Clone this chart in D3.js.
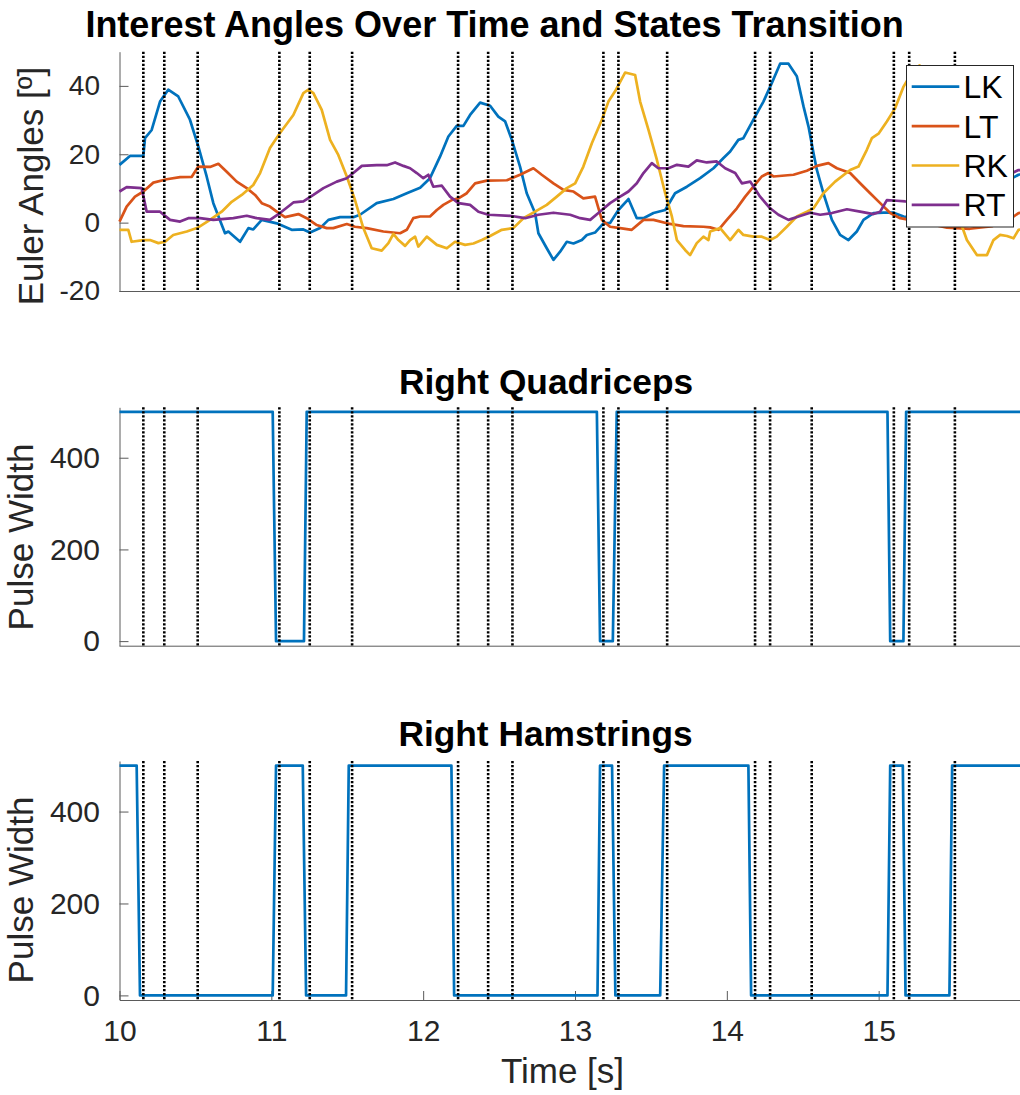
<!DOCTYPE html>
<html>
<head>
<meta charset="utf-8">
<script src="https://cdn.jsdelivr.net/npm/d3@7"></script>
<style>
body { margin: 0; background: #fff; }
svg { display: block; font-family: "Liberation Sans", Arial, sans-serif; }
</style>
</head>
<body>
<svg class="chart" width="1020" height="1095"></svg>
<script>
/*global d3*/
// joint angles, [time s, angle deg]
var lkData = [[10.000,16.9],[10.069,19.5],[10.157,19.5],[10.168,24.7],[10.212,27.1],[10.267,35.4],[10.321,38.9],[10.387,36.9],[10.464,30.1],[10.519,22.3],[10.574,13.5],[10.618,5.7],[10.695,-3.1],[10.717,-2.6],[10.794,-5.6],[10.849,-1.6],[10.881,-2.0],[10.937,0.8],[11.036,-0.2],[11.134,-2.1],[11.211,-2.0],[11.255,-2.9],[11.321,-1.6],[11.376,0.8],[11.453,1.6],[11.540,1.6],[11.584,2.3],[11.694,5.7],[11.804,6.9],[11.892,8.6],[11.980,10.2],[12.045,13.0],[12.111,19.3],[12.166,25.2],[12.221,28.3],[12.265,28.3],[12.309,31.5],[12.375,35.1],[12.441,34.2],[12.495,31.0],[12.540,29.6],[12.584,24.2],[12.638,16.4],[12.682,8.6],[12.737,2.8],[12.759,-3.1],[12.814,-7.5],[12.858,-10.9],[12.902,-8.5],[12.946,-5.6],[12.990,-6.1],[13.045,-5.1],[13.078,-3.6],[13.132,-2.9],[13.187,-0.2],[13.231,-0.1],[13.286,3.7],[13.352,6.9],[13.407,1.3],[13.451,1.3],[13.517,2.8],[13.594,3.7],[13.659,8.6],[13.737,10.5],[13.824,13.0],[13.912,15.9],[13.978,18.9],[14.022,20.8],[14.076,24.2],[14.109,24.7],[14.175,30.1],[14.241,35.4],[14.296,40.8],[14.351,46.5],[14.406,46.5],[14.461,42.8],[14.505,34.0],[14.538,28.1],[14.571,20.3],[14.593,15.4],[14.636,8.6],[14.692,0.8],[14.746,-3.6],[14.801,-5.1],[14.856,-2.6],[14.900,0.8],[14.966,2.8],[15.032,2.9],[15.098,2.9],[15.164,1.8],[15.300,1.0],[15.500,4.0],[15.700,9.0],[15.880,13.0],[15.921,14.0],[16.000,15.0]];
var ltData = [[10.000,0.3],[10.047,4.7],[10.102,7.6],[10.157,9.1],[10.223,11.7],[10.311,12.7],[10.399,13.3],[10.476,13.4],[10.519,16.4],[10.596,16.3],[10.651,17.2],[10.706,14.9],[10.772,12.0],[10.838,10.1],[10.893,8.1],[10.937,5.7],[10.991,4.7],[11.036,3.2],[11.090,1.6],[11.178,2.5],[11.233,1.3],[11.299,-0.7],[11.365,-1.6],[11.408,-1.6],[11.497,-0.4],[11.551,-1.2],[11.628,-1.6],[11.738,-2.6],[11.848,-3.1],[11.892,-2.1],[11.935,1.3],[11.980,1.8],[12.045,1.8],[12.090,3.7],[12.133,5.2],[12.188,6.6],[12.232,7.1],[12.287,8.6],[12.342,11.5],[12.419,12.3],[12.551,12.4],[12.638,14.0],[12.726,15.9],[12.781,14.0],[12.858,11.5],[12.924,9.6],[12.990,9.1],[13.055,7.1],[13.132,7.6],[13.177,0.8],[13.231,-1.2],[13.297,-1.6],[13.374,-2.1],[13.451,0.8],[13.517,0.8],[13.605,-0.2],[13.714,-1.0],[13.846,-1.2],[13.890,-1.4],[13.945,-2.1],[14.000,0.8],[14.066,4.2],[14.121,7.6],[14.175,10.5],[14.230,13.5],[14.274,14.5],[14.307,13.5],[14.439,14.0],[14.527,15.2],[14.593,16.6],[14.669,17.4],[14.725,15.9],[14.812,14.5],[14.878,11.5],[14.944,8.6],[15.010,5.7],[15.076,2.8],[15.142,1.3],[15.300,0.0],[15.450,-1.5],[15.600,-1.8],[15.750,-1.0],[15.880,1.5],[15.921,2.8],[16.000,3.2]];
var rkData = [[10.000,-2.1],[10.058,-2.1],[10.080,-5.6],[10.157,-5.1],[10.201,-5.1],[10.256,-6.0],[10.300,-5.6],[10.354,-3.6],[10.443,-2.6],[10.519,-1.4],[10.596,0.8],[10.673,3.2],[10.739,6.1],[10.805,8.1],[10.881,11.0],[10.926,14.5],[10.991,21.8],[11.057,26.2],[11.145,31.5],[11.211,37.9],[11.244,38.9],[11.277,37.9],[11.332,33.0],[11.387,24.2],[11.441,19.8],[11.497,13.5],[11.551,6.6],[11.606,-1.6],[11.661,-7.5],[11.727,-8.2],[11.771,-6.0],[11.804,-3.3],[11.837,-5.1],[11.881,-6.8],[11.914,-5.1],[11.947,-4.1],[11.968,-7.0],[12.024,-4.1],[12.090,-6.5],[12.156,-7.5],[12.210,-5.6],[12.276,-6.5],[12.331,-6.1],[12.386,-5.1],[12.441,-3.9],[12.518,-2.1],[12.594,-1.6],[12.660,1.3],[12.737,3.2],[12.814,5.2],[12.880,7.6],[12.946,10.1],[13.001,11.5],[13.055,16.4],[13.111,23.2],[13.177,30.1],[13.220,35.4],[13.264,38.4],[13.330,43.9],[13.396,43.2],[13.429,35.4],[13.484,27.1],[13.539,18.4],[13.594,8.6],[13.638,1.8],[13.671,-5.1],[13.725,-8.0],[13.758,-9.5],[13.802,-6.0],[13.846,-4.1],[13.879,-5.1],[13.890,-2.6],[13.956,-1.6],[14.022,-5.1],[14.076,-2.1],[14.109,-3.6],[14.175,-4.1],[14.230,-4.1],[14.285,-5.1],[14.329,-4.1],[14.395,-1.2],[14.461,1.8],[14.527,3.2],[14.571,4.2],[14.636,8.6],[14.713,12.0],[14.812,15.4],[14.867,16.4],[14.922,21.3],[14.955,24.7],[14.999,26.0],[15.054,29.6],[15.109,33.5],[15.164,39.8],[15.220,44.0],[15.270,46.0],[15.330,40.0],[15.420,22.0],[15.500,8.0],[15.548,-1.0],[15.581,-5.1],[15.647,-9.5],[15.713,-9.5],[15.756,-5.1],[15.800,-3.6],[15.845,-3.9],[15.888,-4.6],[15.921,-2.1],[16.000,-1.5]];
var rtData = [[10.000,9.1],[10.047,10.4],[10.146,10.1],[10.179,3.2],[10.267,3.2],[10.333,0.8],[10.399,0.3],[10.453,1.3],[10.530,1.3],[10.618,0.8],[10.750,1.3],[10.838,2.0],[10.904,1.3],[10.991,0.8],[11.057,2.8],[11.145,5.9],[11.211,6.2],[11.277,8.1],[11.343,10.1],[11.431,12.0],[11.497,13.0],[11.540,14.5],[11.596,16.6],[11.694,16.8],[11.760,16.8],[11.815,17.6],[11.870,16.6],[11.914,15.9],[11.958,14.5],[12.001,13.0],[12.034,14.0],[12.067,10.5],[12.123,10.8],[12.177,7.6],[12.232,5.7],[12.309,5.2],[12.364,3.2],[12.430,2.3],[12.572,2.0],[12.671,1.3],[12.759,2.3],[12.858,2.9],[12.968,2.3],[13.034,1.3],[13.100,0.8],[13.154,2.8],[13.231,5.7],[13.297,7.6],[13.352,9.1],[13.407,11.5],[13.451,14.5],[13.506,17.4],[13.549,15.9],[13.615,15.9],[13.671,16.9],[13.747,16.4],[13.802,18.2],[13.868,17.6],[13.934,17.9],[13.989,15.9],[14.055,14.5],[14.099,11.5],[14.154,12.0],[14.219,7.6],[14.285,4.2],[14.340,2.3],[14.406,0.8],[14.472,1.8],[14.549,2.9],[14.615,2.3],[14.692,2.8],[14.791,3.9],[14.878,3.2],[14.966,2.5],[15.010,3.2],[15.054,6.6],[15.120,6.4],[15.175,6.2],[15.350,6.0],[15.550,8.0],[15.750,12.0],[15.880,14.5],[15.921,15.4],[16.000,15.0]];

var seriesNames = ["LK", "LT", "RK", "RT"];
var seriesColors = ["#0072BD", "#D95319", "#EDB120", "#7E2F8E"];

// state transition instants [s]
var stateTimes = [10.157, 10.295, 10.515, 11.053, 11.253, 11.532, 12.230, 12.428, 12.588, 13.187, 13.286, 13.607, 14.186, 14.285, 14.559, 15.100, 15.201, 15.502];

// stimulation pulse widths
var quadTimes = [10, 11.009, 11.031, 11.215, 11.233, 13.144, 13.165, 13.249, 13.275, 15.058, 15.076, 15.163, 15.181, 16];
var quadValues = [500, 500, 0, 0, 500, 500, 0, 0, 500, 500, 0, 0, 500, 500];
var hamTimes = [10, 10.113, 10.135, 11.009, 11.031, 11.207, 11.229, 11.492, 11.510, 12.186, 12.204, 13.148, 13.165, 13.244, 13.266, 13.561, 13.587, 14.142, 14.160, 15.058, 15.076, 15.159, 15.177, 15.466, 15.484, 16];
var hamValues = [500, 500, 0, 0, 500, 500, 0, 0, 500, 500, 0, 0, 500, 500, 0, 0, 500, 500, 0, 0, 500, 500, 0, 0, 500, 500];

var angleTicks = [-20, 0, 20, 40];
var pulseTicks = [0, 200, 400];
var timeTicks = [10, 11, 12, 13, 14, 15];

var svg = d3.select(".chart");
var axisColor = "#5a5a5a";
var textColor = "#262626";
var fontFamily = "'Liberation Sans', Arial, sans-serif";
var plainNumber = function (d) { return String(d); }; // plain hyphen for negatives

var xScale = d3.scaleLinear().domain([10, 16]).range([119.5, 1030.5]);

var line = d3.line()
    .x(function (d) { return xScale(d[0]); });

function drawPanel(opts) {
    var yScale = d3.scaleLinear().domain(opts.domain).range([opts.bottom, opts.top]);
    var g = svg.append("g");

    // left axis, ticks pointing inward like matlab
    var yAxis = g.append("g")
        .attr("transform", "translate(" + xScale.range()[0] + ",0)")
        .call(d3.axisLeft(yScale).tickValues(opts.ticks).tickFormat(plainNumber)
            .tickSizeInner(-9).tickSizeOuter(0).tickPadding(19.5));
    yAxis.selectAll("path, line").attr("stroke", axisColor);
    yAxis.selectAll("text")
        .attr("fill", textColor)
        .style("font-size", opts.tickFont + "px")
        .style("font-family", fontFamily);

    if (opts.xTicks) {
        var xAxis = g.append("g")
            .attr("transform", "translate(0," + opts.bottom + ")")
            .call(d3.axisBottom(xScale).tickValues(opts.xTicks).tickFormat(plainNumber)
                .tickSizeInner(-9).tickSizeOuter(0).tickPadding(20));
        xAxis.selectAll("path, line").attr("stroke", axisColor);
        xAxis.selectAll("text")
            .attr("fill", textColor)
            .style("font-size", "30px")
            .style("font-family", fontFamily);
    } else {
        g.append("line")
            .attr("x1", xScale.range()[0])
            .attr("x2", xScale.range()[1])
            .attr("y1", opts.bottom + 0.5)
            .attr("y2", opts.bottom + 0.5)
            .attr("stroke", axisColor);
    }

    line.y(function (d) { return yScale(d[1]); });

    g.selectAll(".serie")
        .data(opts.series)
        .enter().append("path")
        .attr("class", "serie")
        .attr("d", function (d) { return line(d.values); })
        .attr("fill", "none")
        .attr("stroke", function (d) { return d.color; })
        .attr("stroke-width", 2.7)
        .attr("stroke-linejoin", "round");

    g.selectAll(".state")
        .data(stateTimes)
        .enter().append("line")
        .attr("class", "state")
        .attr("x1", function (d) { return xScale(d); })
        .attr("x2", function (d) { return xScale(d); })
        .attr("y1", opts.top)
        .attr("y2", opts.bottom)
        .attr("stroke", "#000")
        .attr("stroke-width", 2.6)
        .attr("stroke-dasharray", "2.2,1.8");

    svg.append("text")
        .attr("x", opts.titleX)
        .attr("y", opts.titleY)
        .attr("text-anchor", "middle")
        .attr("font-weight", "bold")
        .attr("fill", "#000")
        .style("font-size", opts.titleFont + "px")
        .text(opts.title);

    svg.append("text")
        .attr("transform", "translate(" + opts.labelX + "," + opts.labelY + ") rotate(-90)")
        .attr("text-anchor", "middle")
        .attr("fill", textColor)
        .style("font-size", "35px")
        .text(opts.label);

    return g;
}

var angleSeries = [lkData, ltData, rkData, rtData].map(function (values, i) {
    return {name: seriesNames[i], color: seriesColors[i], values: values};
});

drawPanel({
    top: 51.7, bottom: 291, domain: [-20, 50], ticks: angleTicks, tickFont: 28,
    series: angleSeries,
    title: "Interest Angles Over Time and States Transition", titleX: 494.5, titleY: 37, titleFont: 36,
    label: "Euler Angles [º]", labelX: 43, labelY: 186
});

drawPanel({
    top: 407.3, bottom: 645.7, domain: [-10, 510], ticks: pulseTicks, tickFont: 30,
    series: [{name: "quad", color: "#0072BD", values: d3.zip(quadTimes, quadValues)}],
    title: "Right Quadriceps", titleX: 546, titleY: 394, titleFont: 35.3,
    label: "Pulse Width", labelX: 33, labelY: 537
});

drawPanel({
    top: 761, bottom: 1000, domain: [-10, 510], ticks: pulseTicks, tickFont: 30, xTicks: timeTicks,
    series: [{name: "ham", color: "#0072BD", values: d3.zip(hamTimes, hamValues)}],
    title: "Right Hamstrings", titleX: 545.5, titleY: 746, titleFont: 35.3,
    label: "Pulse Width", labelX: 33, labelY: 890
});

svg.append("text")
    .attr("x", 562.5)
    .attr("y", 1083)
    .attr("text-anchor", "middle")
    .attr("fill", textColor)
    .style("font-size", "35px")
    .text("Time [s]");

// legend for the angle panel
var legendG = svg.append("g").attr("transform", "translate(906,65)");
legendG.append("rect")
    .attr("x", 0.5).attr("y", 0.5)
    .attr("width", 107).attr("height", 161.5)
    .attr("fill", "#fff")
    .attr("stroke", textColor);

var legend = legendG.selectAll(".legend")
    .data(angleSeries)
    .enter().append("g")
    .attr("class", "legend")
    .attr("transform", function (d, i) { return "translate(0," + (21.7 + i * 39.4) + ")"; });

legend.append("line")
    .attr("x1", 5.7).attr("x2", 53.3)
    .attr("stroke", function (d) { return d.color; })
    .attr("stroke-width", 2.7);

legend.append("text")
    .attr("x", 57.5)
    .attr("dy", "0.36em")
    .attr("fill", "#000")
    .style("font-size", "32px")
    .text(function (d) { return d.name; });
</script>
</body>
</html>
